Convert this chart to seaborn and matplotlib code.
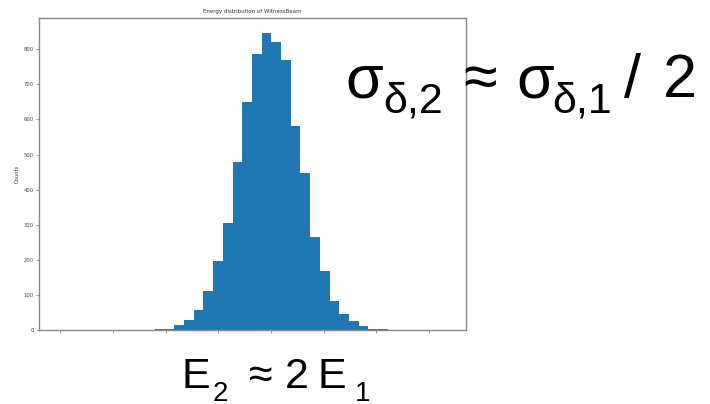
import pandas as pd
import matplotlib
matplotlib.use("Agg")
import matplotlib.pyplot as plt
import seaborn as sns

# Histogram of witness-beam energy: bin edges (arbitrary energy units) and counts
bin_start = 1.80
bin_width = 0.184
counts = [2, 4, 15, 29, 58, 110, 197, 305, 479, 649, 785, 847,
          820, 768, 581, 446, 265, 168, 84, 45, 26, 12, 4, 2]
x_ticks = [0, 1, 2, 3, 4, 5, 6, 7]
y_ticks = [0, 100, 200, 300, 400, 500, 600, 700, 800]

edges = [bin_start + bin_width * i for i in range(len(counts) + 1)]
centers = [0.5 * (a + b) for a, b in zip(edges[:-1], edges[1:])]
df = pd.DataFrame({"energy": centers, "counts": counts})

sns.set_theme(style="white")
plt.rcParams["font.family"] = ["DejaVu Sans"]

W, H = 710, 404
fig = plt.figure(figsize=(W / 100, H / 100), dpi=100)
ax = fig.add_axes([39 / W, 1 - 330 / H, 427 / W, 312 / H])

sns.histplot(data=df, x="energy", weights="counts", bins=edges,
             color="#1f77b4", alpha=1.0, linewidth=0, ax=ax)

ax.set_xlim(-0.40, 7.70)
ax.set_ylim(0, 889)
ax.set_xticks(x_ticks)
ax.set_xticklabels([])
ax.set_yticks(y_ticks)
ax.set_yticklabels([str(v) for v in y_ticks])
ax.tick_params(axis="both", which="both", direction="out", length=2.5,
               width=0.6, color="#888888", labelsize=3.8,
               labelcolor="#444444", pad=1.2, left=True, bottom=True)
ax.set_xlabel("")
ax.set_ylabel("Counts", fontsize=3.8, color="#444444", labelpad=3)
ax.set_title("Energy distribution of WitnessBeam", fontsize=4.0,
             color="#333333", pad=3.5)
for side in ["left", "right", "top", "bottom"]:
    ax.spines[side].set_visible(True)
    ax.spines[side].set_color("#888888")
    ax.spines[side].set_linewidth(1.0)


def put(s, xc, baseline, size):
    """Place one piece of a formula, centred on xc (px), on a baseline (px)."""
    fig.text(xc / W, 1 - baseline / H, s, fontsize=size, color="black",
             family="Liberation Sans", ha="center", va="baseline")


# Spread relation: sigma_{delta,2} ~ sigma_{delta,1} / 2
put("σ", 364.5, 97, 44)
put("δ,2", 413.5, 112, 31)
put("≈", 480, 97, 44)
put("σ", 535, 97, 44)
put("δ,1", 582, 112, 31)
put("/", 632.5, 97, 44)
put("2", 680, 97, 44)

# Energy relation: E_2 ~ 2 E_1
put("E", 195.5, 388, 31)
put("2", 220.5, 401, 20)
put("≈", 261, 388, 31)
put("2", 297, 388, 31)
put("E", 332, 388, 31)
put("1", 362.5, 401, 20)

fig.savefig("out.png", dpi=100)
